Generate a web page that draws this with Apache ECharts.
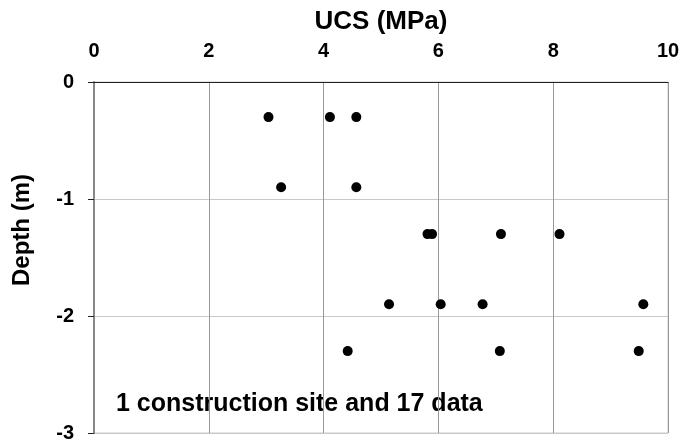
<!DOCTYPE html>
<html>
<head>
<meta charset="utf-8">
<script src="https://cdn.jsdelivr.net/npm/echarts@6/dist/echarts.min.js"></script>
<style>
  html, body { margin: 0; padding: 0; background: #fff; }
  #chart { width: 683px; height: 441px; }
</style>
</head>
<body>
<div id="chart"></div>
<script>
// UCS test results against sampling depth
const ucs   = [3.04, 4.11, 4.57, 3.26, 4.57, 5.81, 5.89, 7.09, 8.11, 5.14, 6.04, 6.77, 9.57, 4.42, 7.07, 9.49];
const depth = [-0.3, -0.3, -0.3, -0.9, -0.9, -1.3, -1.3, -1.3, -1.3, -1.9, -1.9, -1.9, -1.9, -2.3, -2.3, -2.3];
const xTicks = [0, 2, 4, 6, 8, 10];
const yTicks = [0, -1, -2, -3];
const note = '1 construction site and 17 data';

const FONT = 'Liberation Sans, Arial, sans-serif';
const points = ucs.map((v, i) => [v, depth[i]]);

const chart = echarts.init(document.getElementById('chart'), null, { renderer: 'canvas' });
chart.setOption({
  animation: false,
  backgroundColor: '#fff',
  grid: {
    left: 94, right: 15, top: 82, bottom: 8,
    containLabel: false, outerBoundsMode: 'none',
    show: true, borderColor: '#c8c8c8', borderWidth: 1
  },
  xAxis: {
    type: 'value', position: 'top',
    min: xTicks[0], max: xTicks[xTicks.length - 1], interval: 2,
    name: 'UCS (MPa)', nameLocation: 'middle', nameGap: 47,
    nameTextStyle: { fontFamily: FONT, fontWeight: 'bold', fontSize: 26, color: '#000' },
    axisLine: { show: true, lineStyle: { color: '#222', width: 1 } },
    axisTick: { show: false },
    axisLabel: { fontFamily: FONT, fontWeight: 'bold', fontSize: 20, color: '#000', margin: 21 },
    splitLine: { show: true, lineStyle: { color: '#999', width: 1 } }
  },
  yAxis: {
    type: 'value',
    min: yTicks[yTicks.length - 1], max: yTicks[0], interval: 1,
    axisLine: { show: true, lineStyle: { color: '#888', width: 2 } },
    axisTick: { show: true, length: 6, lineStyle: { color: '#222' } },
    axisLabel: { fontFamily: FONT, fontWeight: 'bold', fontSize: 20, color: '#000', margin: 20 },
    splitLine: { show: true, lineStyle: { color: '#c8c8c8', width: 1 } }
  },
  graphic: [
    {
      type: 'text', left: 10, top: 174, rotation: Math.PI / 2,
      style: { text: 'Depth (m)', font: 'bold 24px ' + FONT, fill: '#000' }
    },
    {
      type: 'text', left: 116, top: 392,
      style: { text: note, font: 'bold 25px ' + FONT, fill: '#000' }
    }
  ],
  series: [{
    type: 'scatter',
    data: points,
    symbol: 'circle',
    symbolSize: 10,
    itemStyle: { color: '#000', opacity: 1 }
  }]
});
</script>
</body>
</html>
